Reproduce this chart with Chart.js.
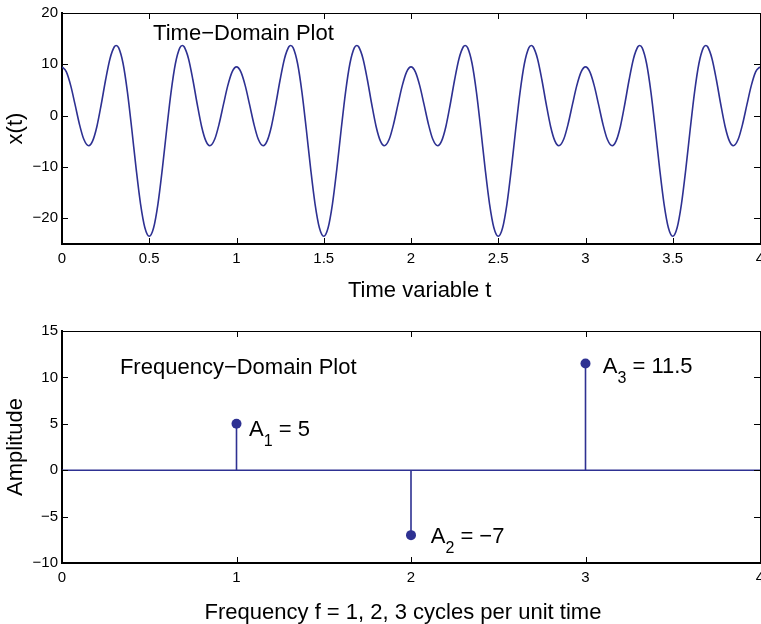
<!DOCTYPE html>
<html>
<head>
<meta charset="utf-8">
<script src="https://cdn.jsdelivr.net/npm/chart.js@4.4.1/dist/chart.umd.min.js"></script>
<style>
  html, body { margin: 0; padding: 0; background: #fff; }
  #wrap { position: relative; width: 761px; height: 624px; }
  canvas { position: absolute; left: 0; }
  #timeChart { top: 0; }
  #freqChart { top: 310px; }
</style>
</head>
<body>
<div id="wrap">
  <canvas id="timeChart" width="761" height="310"></canvas>
  <canvas id="freqChart" width="761" height="314"></canvas>
</div>
<script>
// one period of x(t) (the curve repeats every 1 time unit)
const cycleT = [0, 0.025, 0.05, 0.075, 0.1, 0.125, 0.153, 0.175, 0.2, 0.225, 0.25, 0.275, 0.3, 0.3105, 0.325, 0.35, 0.375, 0.4, 0.425, 0.45, 0.475,
  0.5, 0.525, 0.55, 0.575, 0.6, 0.625, 0.65, 0.675, 0.6895, 0.7, 0.725, 0.75, 0.775, 0.8, 0.825, 0.847, 0.875, 0.9, 0.925, 0.95, 0.975];
const cycleX = [9.5, 8.53, 5.85, 2.14, -1.67, -4.6, -5.85, -4.97, -2.1, 2.22, 7.0, 11.1, 13.42, 13.67, 13.2, 10.16, 4.6, -2.65, -10.37, -17.18, -21.84,
  -23.5, -21.84, -17.18, -10.37, -2.65, 4.6, 10.16, 13.2, 13.67, 13.42, 11.1, 7.0, 2.22, -2.1, -4.97, -5.85, -4.6, -1.67, 2.14, 5.85, 8.53];
const periods = 4;

// frequency domain
const stemFreq = [1, 2, 3];
const stemAmp = [5, -7, 11.5];

// tick labels
const timeTicksX = [0, 0.5, 1, 1.5, 2, 2.5, 3, 3.5, 4];
const timeTicksY = [-20, -10, 0, 10, 20];
const freqTicksX = [0, 1, 2, 3, 4];
const freqTicksY = [-10, -5, 0, 5, 10, 15];

const FONT = '"Liberation Sans", Arial, Helvetica, sans-serif';
const NAVY = '#2e3192';
Chart.defaults.font.family = FONT;
Chart.defaults.color = '#000';

function minus(v) {
  return String(v).replace('-', '\u2212');
}

// build the time series by repeating the cycle
const timeData = [];
for (let p = 0; p < periods; p++) {
  cycleT.forEach((t, i) => timeData.push({ x: t + p, y: cycleX[i] }));
}
timeData.push({ x: periods, y: cycleX[0] });

// fixed axis sizes so both plots line up
function fixAxis(size) {
  return function (scale) {
    if (scale.isHorizontal()) scale.height = size;
    else scale.width = size;
    scale.paddingLeft = 0;
    scale.paddingRight = 0;
    scale.paddingTop = 0;
    scale.paddingBottom = 0;
  };
}
function useTicks(list) {
  return function (scale) {
    scale.ticks = list.map(v => ({ value: v }));
  };
}

function axis(opts) {
  return {
    type: 'linear',
    min: opts.min,
    max: opts.max,
    afterBuildTicks: useTicks(opts.ticks),
    afterFit: fixAxis(opts.size),
    grid: { display: true, drawOnChartArea: false, drawTicks: false },
    border: { display: true, color: '#000', width: 2 },
    ticks: { padding: opts.pad, font: { size: 15 }, color: '#000', maxRotation: 0, autoSkip: false, callback: minus },
    title: {
      display: !!opts.title, text: opts.title || '', font: { size: 22 }, color: '#000',
      padding: { top: 3, bottom: 0 }
    }
  };
}

// box on top/right + inward tick marks (matlab style)
const framePlugin = {
  id: 'frame',
  afterDraw(chart) {
    const { ctx, chartArea: a, scales: { x, y } } = chart;
    ctx.save();
    ctx.strokeStyle = '#000';
    ctx.lineWidth = 1;
    ctx.beginPath();
    ctx.moveTo(a.left, a.top + 0.5);
    ctx.lineTo(a.right + 1, a.top + 0.5);
    ctx.moveTo(a.right + 0.5, a.top);
    ctx.lineTo(a.right + 0.5, a.bottom);
    x.ticks.forEach(t => {
      const px = Math.round(x.getPixelForValue(t.value)) + 0.5;
      ctx.moveTo(px, a.bottom);
      ctx.lineTo(px, a.bottom - 6);
      ctx.moveTo(px, a.top);
      ctx.lineTo(px, a.top + 6);
    });
    y.ticks.forEach(t => {
      const py = Math.round(y.getPixelForValue(t.value)) + 0.5;
      ctx.moveTo(a.left, py);
      ctx.lineTo(a.left + 6, py);
      ctx.moveTo(a.right, py);
      ctx.lineTo(a.right - 6, py);
    });
    ctx.stroke();
    ctx.restore();
  }
};

// text inside the plots, placed in data units; x-axis title below the plot
const notesPlugin = {
  id: 'notes',
  afterDraw(chart, args, opts) {
    const { ctx, chartArea: a, scales: { x, y } } = chart;
    ctx.save();
    ctx.fillStyle = '#000';
    ctx.textBaseline = 'alphabetic';
    (opts.items || []).forEach(n => {
      let px = x.getPixelForValue(n.x);
      const py = n.below !== undefined ? a.bottom + n.below : y.getPixelForValue(n.y);
      ctx.font = '22px ' + FONT;
      ctx.textAlign = n.center ? 'center' : 'left';
      ctx.fillText(n.text, px, py);
      if (n.sub) {
        px += ctx.measureText(n.text).width;
        ctx.font = '16px ' + FONT;
        ctx.fillText(n.sub, px, py + 10);
        px += ctx.measureText(n.sub).width;
        ctx.font = '22px ' + FONT;
        ctx.fillText(n.rest, px, py);
      }
    });
    ctx.restore();
  }
};

// top: time domain
new Chart(document.getElementById('timeChart'), {
  type: 'scatter',
  data: {
    datasets: [{
      data: timeData,
      showLine: true,
      borderColor: NAVY,
      borderWidth: 1.6,
      pointRadius: 0,
      cubicInterpolationMode: 'monotone'
    }]
  },
  options: {
    responsive: false,
    animation: false,
    layout: { autoPadding: false, padding: { top: 13, right: 1, bottom: 6, left: 0 } },
    scales: {
      x: axis({ min: 0, max: 4, ticks: timeTicksX, size: 60, pad: 6 }),
      y: axis({ min: -25, max: 20, ticks: timeTicksY, size: 62, pad: 4, title: 'x(t)' })
    },
    plugins: {
      legend: { display: false },
      tooltip: { enabled: false },
      notes: {
        items: [
          { text: 'Time\u2212Domain Plot', x: 0.522, y: 14.74 },
          { text: 'Time variable t', x: 2.05, below: 53, center: true }
        ]
      }
    }
  },
  plugins: [framePlugin, notesPlugin]
});

// bottom: frequency domain stem plot
const noteSpots = [{ x: 1.072, y: 3.69 }, { x: 2.113, y: -7.85 }, { x: 3.099, y: 10.51 }];
const freqSets = [{
  data: [{ x: 0, y: 0 }, { x: 4, y: 0 }],
  showLine: true, borderColor: NAVY, borderWidth: 1.6, pointRadius: 0
}];
stemFreq.forEach((f, i) => {
  freqSets.push({
    data: [{ x: f, y: 0 }, { x: f, y: stemAmp[i] }],
    showLine: true, borderColor: NAVY, borderWidth: 1.6, pointRadius: 0
  });
});
freqSets.push({
  data: stemFreq.map((f, i) => ({ x: f, y: stemAmp[i] })),
  showLine: false, pointRadius: 5, backgroundColor: NAVY, borderColor: NAVY, borderWidth: 0
});

new Chart(document.getElementById('freqChart'), {
  type: 'scatter',
  data: { datasets: freqSets },
  options: {
    responsive: false,
    animation: false,
    layout: { autoPadding: false, padding: { top: 21, right: 1, bottom: 0, left: 0 } },
    scales: {
      x: axis({ min: 0, max: 4, ticks: freqTicksX, size: 61, pad: 6 }),
      y: axis({ min: -10, max: 15, ticks: freqTicksY, size: 62, pad: 4, title: 'Amplitude' })
    },
    plugins: {
      legend: { display: false },
      tooltip: { enabled: false },
      notes: {
        items: [
          { text: 'Frequency\u2212Domain Plot', x: 0.332, y: 10.42 },
          { text: 'Frequency f = 1, 2, 3 cycles per unit time', x: 1.954, below: 56, center: true }
        ].concat(
          stemFreq.map((f, i) => ({
            text: 'A', sub: String(i + 1), rest: ' = ' + minus(stemAmp[i]),
            x: noteSpots[i].x, y: noteSpots[i].y
          }))
        )
      }
    }
  },
  plugins: [framePlugin, notesPlugin]
});
</script>
</body>
</html>
